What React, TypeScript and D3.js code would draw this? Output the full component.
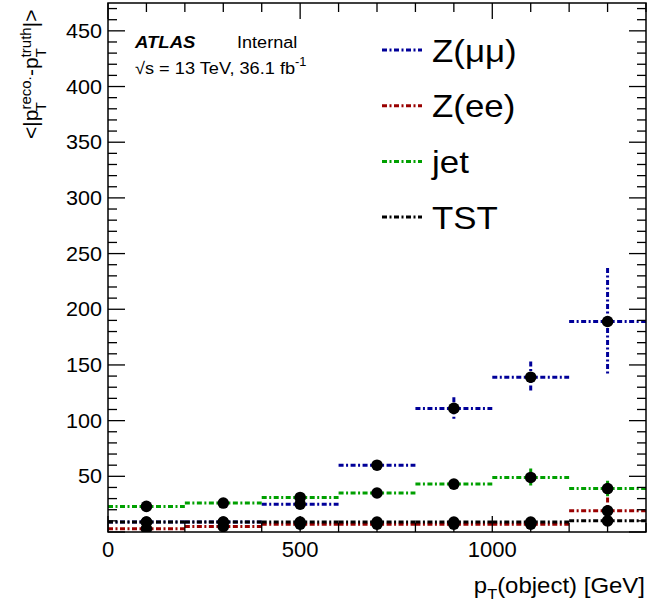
import * as d3 from 'd3'
import { useMemo } from 'react'
import type { ReactNode } from 'react'

// binning in p_T(object) [GeV]
const binEdges = [0, 200, 400, 600, 800, 1000, 1200, 1400]
const binCenters = [100, 300, 500, 700, 900, 1100, 1300]

// <|pT reco - pT truth|> per bin
const zmmValues = [9, 9, 25, 60, 111, 139, 189]
const zmmErrors = [1, 1, 2, 2, 10, 14, 48]
const zeeValues = [3, 5, 7, 7, 7, 7, 19]
const zeeErrors = [1, 1, 1, 1, 1, 1, 12]
const jetValues = [23, 26, 31, 35, 43, 49, 39]
const jetErrors = [1, 1, 2, 2, 4, 8, 7]
const tstValues = [9, 9, 9, 9, 9, 9, 10]
const tstErrors = [1, 1, 1, 1, 1, 1, 1]

const seriesNames = ['Z(μμ)', 'Z(ee)', 'jet', 'TST']
const seriesColors = ['#000099', '#990000', '#00a000', '#000000']

const xTickLabels = [0, 500, 1000]
const yTickLabels = [50, 100, 150, 200, 250, 300, 350, 400, 450]

const FONT = '"Liberation Sans", Arial, Helvetica, sans-serif'
const DASH = '5 2.5 2 2.5'

const getDimensions = () => {
  const width = 647
  const height = 611
  const left = 108
  const right = 646
  const top = 3
  const bottom = 532
  return { width, height, left, right, top, bottom }
}

const properties = () => {
  const dims = getDimensions()
  const xScale = d3.scaleLinear().domain([0, 1400]).range([dims.left, dims.right])
  const yScale = d3.scaleLinear().domain([0, 475]).range([dims.bottom, dims.top])

  const series = [
    { values: zmmValues, errors: zmmErrors },
    { values: zeeValues, errors: zeeErrors },
    { values: jetValues, errors: jetErrors },
    { values: tstValues, errors: tstErrors },
  ].map((s, i) => ({
    name: seriesNames[i],
    color: seriesColors[i],
    points: binCenters.map((c, j) => ({
      x: c,
      lo: binEdges[j],
      hi: binEdges[j + 1],
      v: s.values[j],
      e: s.errors[j],
    })),
  }))

  const yMinor = d3.range(0, 476, 10)
  const yMajor = d3.range(0, 476, 50)
  const xMinor = d3.range(0, 1401, 100)
  const xMajor = d3.range(0, 1401, 500)

  return { dims, xScale, yScale, series, yMinor, yMajor, xMinor, xMajor }
}

// text that is a bit wider than the font (the reference is stretched horizontally)
const SText = ({
  x,
  y,
  sx = 1,
  size,
  anchor = 'start',
  children,
  weight,
  italic,
}: {
  x: number
  y: number
  sx?: number
  size: number
  anchor?: string
  children: ReactNode
  weight?: string
  italic?: boolean
}) => (
  <text
    transform={`translate(${x},${y}) scale(${sx},1)`}
    textAnchor={anchor}
    fontFamily={FONT}
    fontSize={size}
    fontWeight={weight}
    fontStyle={italic ? 'italic' : undefined}
  >
    {children}
  </text>
)

const App = () => {
  const { dims, xScale, yScale, series, yMinor, yMajor, xMinor, xMajor } = useMemo(
    () => properties(),
    []
  )
  const { left, right, top, bottom } = dims
  const clamp = (v: number) => Math.max(top, Math.min(bottom, v))

  return (
    <div style={{ position: 'absolute', left: 0, top: 0 }}>
      <svg width={dims.width} height={dims.height} style={{ display: 'block', background: 'white' }}>
        <defs>
          <clipPath id="frame">
            <rect x={left} y={top} width={right - left} height={bottom - top} />
          </clipPath>
        </defs>

        {/* data */}
        <g clipPath="url(#frame)">
          {series.map((s) => (
            <g key={s.name}>
              {s.points.map((p, j) => (
                <g key={j}>
                  <line
                    x1={xScale(p.lo)}
                    x2={xScale(p.hi)}
                    y1={yScale(p.v)}
                    y2={yScale(p.v)}
                    stroke={s.color}
                    strokeWidth={3}
                    strokeDasharray={DASH}
                  />
                  <line
                    x1={xScale(p.x)}
                    x2={xScale(p.x)}
                    y1={clamp(yScale(p.v + p.e))}
                    y2={clamp(yScale(p.v - p.e))}
                    stroke={s.color}
                    strokeWidth={3}
                    strokeDasharray={DASH}
                  />
                </g>
              ))}
            </g>
          ))}
          {series.map((s) =>
            s.points.map((p, j) => (
              <circle key={s.name + j} cx={xScale(p.x)} cy={yScale(p.v)} r={5.8} fill="#000" />
            ))
          )}
        </g>

        {/* frame + ticks */}
        <rect x={left} y={top} width={right - left} height={bottom - top} fill="none" stroke="#000" strokeWidth={1.5} />
        <g stroke="#000" strokeWidth={1.3}>
          {yMinor.map((v) => {
            const len = yMajor.includes(v) ? 17 : 9
            return (
              <g key={'y' + v}>
                <line x1={left} x2={left + len} y1={yScale(v)} y2={yScale(v)} />
                <line x1={right} x2={right - len} y1={yScale(v)} y2={yScale(v)} />
              </g>
            )
          })}
          {xMinor.map((v) => {
            const len = xMajor.includes(v) ? 16 : 9
            return (
              <g key={'x' + v}>
                <line x1={xScale(v)} x2={xScale(v)} y1={bottom} y2={bottom - len} />
                <line x1={xScale(v)} x2={xScale(v)} y1={top} y2={top + len} />
              </g>
            )
          })}
        </g>

        {/* tick labels */}
        {yTickLabels.map((v) => (
          <SText key={v} x={left - 6} y={yScale(v) + 7} size={20} sx={1.08} anchor="end">
            {v}
          </SText>
        ))}
        {xTickLabels.map((v) => (
          <SText key={v} x={xScale(v)} y={557} size={22} anchor="middle">
            {v}
          </SText>
        ))}

        {/* axis titles */}
        <SText x={645} y={593} size={22} sx={1.09} anchor="end">
          <tspan>p</tspan>
          <tspan fontSize={15} dy={6}>T</tspan>
          <tspan dy={-6}>(object) [GeV]</tspan>
        </SText>
        <text transform="rotate(-90)" x={-139} y={38} fontFamily={FONT} fontSize={21}>
          <tspan>&lt;|p</tspan>
          <tspan fontSize={15} dy={-7}>reco.</tspan>
          <tspan fontSize={15} dx={-35} dy={15}>T</tspan>
          <tspan dx={26} dy={-8}>-p</tspan>
          <tspan fontSize={15} dy={-7}>truth</tspan>
          <tspan fontSize={15} dx={-30} dy={15}>T</tspan>
          <tspan dx={21} dy={-8}>|&gt;</tspan>
        </text>

        {/* ATLAS label */}
        <SText x={135} y={48} size={16} sx={1.16} weight="bold" italic>
          ATLAS
        </SText>
        <SText x={237} y={48} size={16} sx={1.13}>
          Internal
        </SText>
        <SText x={135} y={74} size={17} sx={1.07}>
          <tspan>√s = 13 TeV, 36.1 fb</tspan>
          <tspan fontSize={12} dy={-8}>-1</tspan>
        </SText>

        {/* legend */}
        {series.map((s, i) => {
          const ly = 50 + i * 55.7
          return (
            <g key={s.name}>
              <line x1={382} x2={422} y1={ly} y2={ly} stroke={s.color} strokeWidth={3} strokeDasharray={DASH} />
              <SText x={432} y={ly + 11.5} size={32} sx={1.09}>
                {s.name}
              </SText>
            </g>
          )
        })}
      </svg>
    </div>
  )
}

export default App
